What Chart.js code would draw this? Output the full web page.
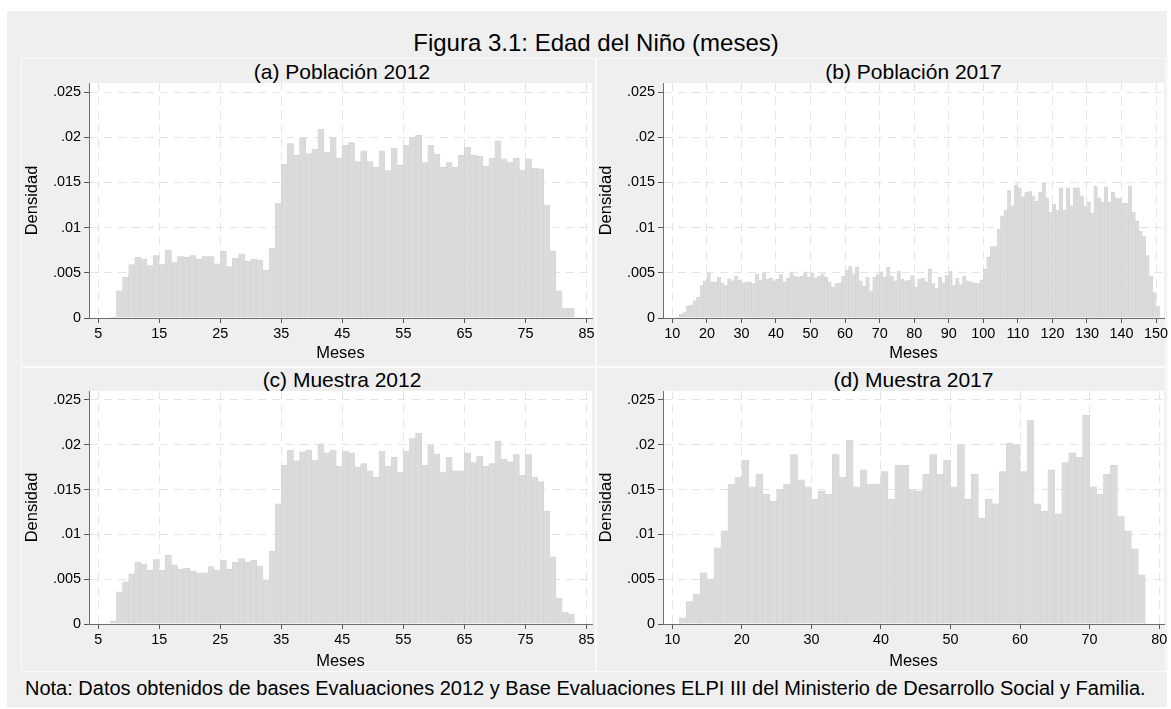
<!DOCTYPE html>
<html><head><meta charset="utf-8">
<script src="https://cdn.jsdelivr.net/npm/chart.js@4.4.1/dist/chart.umd.min.js"></script>
<style>
html,body{margin:0;padding:0;background:#fff;width:1171px;height:709px;overflow:hidden;font-family:"Liberation Sans",Arial,sans-serif;color:#000}
#outer{position:absolute;left:7px;top:11px;width:1160px;height:696px;background:#efefef}
.box{position:absolute;border:1px solid #fafafa;box-sizing:border-box}
.txt{position:absolute;line-height:1;white-space:nowrap}
.ctr{text-align:center}
canvas{position:absolute}
</style></head><body>
<div id="outer"></div>
<div class="box" style="left:21px;top:58px;width:575px;height:309px"></div>
<div class="box" style="left:596px;top:58px;width:570px;height:309px"></div>
<div class="box" style="left:21px;top:367px;width:575px;height:305px"></div>
<div class="box" style="left:596px;top:367px;width:570px;height:305px"></div>
<div class="txt ctr" style="left:296px;width:600px;top:30.7px;font-size:24px">Figura 3.1: Edad del Niño (meses)</div>
<div class="txt ctr" style="left:142px;width:400px;top:60.7px;font-size:21px">(a) Población 2012</div>
<div class="txt ctr" style="left:713.5px;width:400px;top:60.7px;font-size:21px">(b) Población 2017</div>
<div class="txt ctr" style="left:142px;width:400px;top:368.7px;font-size:21px">(c) Muestra 2012</div>
<div class="txt ctr" style="left:713.5px;width:400px;top:368.7px;font-size:21px">(d) Muestra 2017</div>
<div class="txt" style="left:25px;top:678px;font-size:20px">Nota: Datos obtenidos de bases Evaluaciones 2012 y Base Evaluaciones ELPI III del Ministerio de Desarrollo Social y Familia.</div>
<canvas id="ca" width="576" height="284" style="left:21px;top:80px"></canvas>
<canvas id="cb" width="576" height="284" style="left:595px;top:80px"></canvas>
<canvas id="cc" width="576" height="284" style="left:21px;top:388px"></canvas>
<canvas id="cd" width="576" height="284" style="left:595px;top:388px"></canvas>
<script>
// ---- data ----
const yTicks = [0, 0.005, 0.01, 0.015, 0.02, 0.025];
const xTicks2012 = [5, 15, 25, 35, 45, 55, 65, 75, 85];
const xTicksPob2017 = [10, 20, 30, 40, 50, 60, 70, 80, 90, 100, 110, 120, 130, 140, 150];
const xTicksMue2017 = [10, 20, 30, 40, 50, 60, 70, 80];

// first month (left edge of first bin) for each panel; bins are 1 month wide
const firstMonthA = 7, firstMonthB = 11, firstMonthC = 7, firstMonthD = 11;

// (a) Población 2012, months 7..82
const densPob2012 = [0.0001,0.0030,0.0045,0.0059,0.0067,0.0065,0.0058,0.0069,0.0059,0.0075,
0.0062,0.0068,0.0067,0.0069,0.0065,0.0068,0.0068,0.0060,0.0074,0.0057,
0.0066,0.0071,0.0063,0.0065,0.0064,0.0053,0.0077,0.0127,0.0170,0.0193,
0.0180,0.0199,0.0182,0.0187,0.0209,0.0183,0.0200,0.0177,
0.0191,0.0194,0.0173,0.0185,0.0173,0.0167,0.0185,0.0163,0.0188,0.0169,
0.0191,0.0200,0.0202,0.0172,0.0191,0.0181,0.0167,0.0172,0.0167,0.0180,
0.0189,0.0180,0.0179,0.0168,0.0177,0.0196,0.0176,0.0172,0.0177,0.0164,
0.0176,0.0166,0.0165,0.0125,0.0074,0.0030,0.0011,0.0011];

// (b) Población 2017, months 11..150
const densPob2017 = [0.0001,0.0004,0.0006,0.0013,0.0014,0.0019,0.0023,0.0036,0.0041,0.0050,
0.0040,0.0040,0.0045,0.0039,0.0036,0.0043,0.0041,0.0046,0.0042,0.0039,
0.0040,0.0040,0.0038,0.0049,0.0042,0.0050,0.0043,0.0044,0.0041,0.0043,
0.0048,0.0040,0.0044,0.0051,0.0046,0.0045,0.0046,0.0051,0.0045,0.0050,
0.0044,0.0046,0.0049,0.0045,0.0040,0.0034,0.0038,0.0039,0.0046,0.0053,
0.0057,0.0049,0.0056,0.0041,0.0035,0.0045,0.0030,0.0045,0.0048,0.0051,
0.0045,0.0056,0.0046,0.0041,0.0052,0.0043,0.0041,0.0042,0.0047,0.0034,
0.0043,0.0044,0.0040,0.0054,0.0038,0.0033,0.0045,0.0039,0.0047,0.0052,
0.0036,0.0044,0.0037,0.0046,0.0041,0.0040,0.0039,0.0038,0.0042,0.0054,
0.0067,0.0079,0.0079,0.0098,0.0113,0.0119,0.0141,0.0124,0.0147,0.0144,
0.0134,0.0139,0.0140,0.0135,0.0129,0.0139,0.0149,0.0133,0.0117,0.0126,
0.0119,0.0144,0.0119,0.0144,0.0124,0.0144,0.0144,0.0135,0.0124,0.0128,
0.0116,0.0146,0.0133,0.0128,0.0145,0.0128,0.0139,0.0133,0.0132,0.0127,
0.0127,0.0146,0.0117,0.0107,0.0096,0.0090,0.0069,0.0046,0.0028,0.0013];

// (c) Muestra 2012, months 7..82
const densMue2012 = [0.0003,0.0036,0.0047,0.0056,0.0069,0.0067,0.0060,0.0072,0.0060,0.0077,
0.0066,0.0061,0.0062,0.0059,0.0057,0.0057,0.0064,0.0060,0.0071,0.0061,
0.0069,0.0073,0.0069,0.0071,0.0065,0.0049,0.0081,0.0134,0.0177,0.0194,
0.0182,0.0192,0.0194,0.0183,0.0201,0.0191,0.0194,0.0176,
0.0193,0.0191,0.0175,0.0179,0.0171,0.0164,0.0193,0.0176,0.0186,0.0169,
0.0193,0.0207,0.0213,0.0177,0.0199,0.0190,0.0169,0.0186,0.0171,0.0171,
0.0191,0.0180,0.0187,0.0176,0.0179,0.0204,0.0184,0.0181,0.0189,0.0166,
0.0189,0.0164,0.0159,0.0126,0.0075,0.0029,0.0013,0.0011];

// (d) Muestra 2017, months 11..77
const densMue2017 = [0.0007,0.0025,0.0033,0.0057,0.0050,0.0085,0.0104,0.0156,0.0164,0.0183,
0.0153,0.0167,0.0145,0.0137,0.0150,0.0156,0.0189,0.0161,0.0153,0.0139,
0.0148,0.0145,0.0189,0.0164,0.0205,0.0153,0.0172,0.0156,0.0156,0.0170,
0.0139,0.0177,0.0177,0.0150,0.0148,0.0167,0.0189,0.0167,0.0183,0.0153,
0.0200,0.0139,0.0167,0.0118,0.0139,0.0134,0.0170,0.0202,0.0200,0.0170,
0.0227,0.0134,0.0126,0.0172,0.0123,0.0180,0.0191,0.0186,0.0233,0.0153,
0.0145,0.0167,0.0177,0.0120,0.0104,0.0084,0.0055];

// ---- drawing ----
Chart.defaults.font.family = '"Liberation Sans", Arial, sans-serif';
Chart.defaults.color = '#000';

const plotBg = {
  id: 'plotBg',
  beforeDraw(c) {
    const {ctx, chartArea: a} = c;
    ctx.save();
    ctx.fillStyle = '#ffffff';
    ctx.fillRect(a.left, a.top, a.right - a.left, a.bottom - a.top);
    ctx.restore();
  }
};

function fmtY(v) { return v === 0 ? '0' : String(v).replace(/^0\./, '.'); }

function hist(id, firstMonth, dens, xTicks, xmin, xmax, xAxisH, padRight) {
  const pts = dens.map((d, i) => ({x: firstMonth + i + 0.5, y: d}));
  new Chart(document.getElementById(id), {
    type: 'bar',
    data: { datasets: [{
      data: pts,
      backgroundColor: '#dbdbdb',
      borderColor: '#d0d0d0',
      borderWidth: 0.5,
      barPercentage: 1,
      categoryPercentage: 1
    }]},
    options: {
      responsive: false,
      animation: false,
      events: [],
      layout: { padding: { top: 3, right: padRight, left: 0, bottom: 0 } },
      plugins: { legend: { display: false }, tooltip: { enabled: false } },
      scales: {
        x: {
          type: 'linear', min: xmin, max: xmax, offset: false, bounds: 'data',
          afterBuildTicks: s => { s.ticks = xTicks.map(v => ({value: v})); },
          afterFit: s => { s.height = xAxisH; },
          ticks: { autoSkip: false, maxRotation: 0, minRotation: 0, font: {size: 14.4}, color: '#000', padding: 2, callback: v => String(v) },
          grid: { offset: false, color: '#e4e4e4', lineWidth: 1, tickLength: 5, tickColor: '#555', tickWidth: 1 },
          border: { display: true, color: '#6e6e6e', width: 1, dash: [8, 6] },
          title: { display: true, text: 'Meses', font: {size: 16.5}, color: '#000', padding: {top: 0, bottom: 1} }
        },
        y: {
          type: 'linear', min: 0, max: 0.026, bounds: 'data',
          afterBuildTicks: s => { s.ticks = yTicks.map(v => ({value: v})); },
          afterFit: s => { s.width = 68; s.paddingTop = 0; s.paddingBottom = 0; },
          ticks: { font: {size: 14.4}, color: '#000', padding: 3, callback: v => fmtY(v) },
          grid: { color: '#e4e4e4', lineWidth: 1, tickLength: 5, tickColor: '#555', tickWidth: 1 },
          border: { display: true, color: '#6e6e6e', width: 1, dash: [8, 6] },
          title: { display: true, text: 'Densidad', font: {size: 16.5}, color: '#000', padding: {top: 2, bottom: 0} }
        }
      }
    },
    plugins: [plotBg]
  });
}

hist('ca', firstMonthA, densPob2012, xTicks2012, 3.5, 85.9, 46, 5);
hist('cb', firstMonthB, densPob2017, xTicksPob2017, 7.3, 152.3, 46, 7);
hist('cc', firstMonthC, densMue2012, xTicks2012, 3.5, 85.9, 48, 5);
hist('cd', firstMonthD, densMue2017, xTicksMue2017, 8.66, 80.7, 48, 7);
</script>
</body></html>
